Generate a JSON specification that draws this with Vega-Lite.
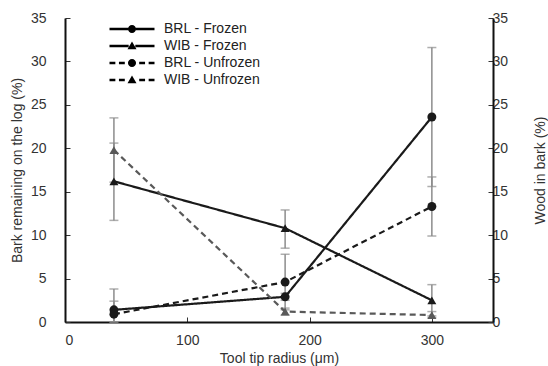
{
  "$schema": "https://vega.github.io/schema/vega-lite/v6.json",
  "autosize": {"type": "none"},
  "width": 428,
  "height": 304,
  "padding": {"left": 65, "top": 18, "right": 55, "bottom": 44},
  "background": "white",
  "config": {
    "view": {"stroke": null},
    "font": "Liberation Sans",
    "axis": {
      "labelFont": "Liberation Sans",
      "labelFontSize": 14,
      "labelColor": "#333333",
      "titleFont": "Liberation Sans",
      "titleFontSize": 14,
      "titleFontWeight": "normal",
      "titleColor": "#333333",
      "domainColor": "#111111",
      "domainWidth": 2,
      "tickColor": "#333333",
      "tickWidth": 1,
      "grid": false
    },
    "legend": {
      "labelFont": "Liberation Sans",
      "labelFontSize": 14,
      "labelColor": "#222222"
    }
  },
  "data": {
    "values": [
      {"series": "BRL - Frozen", "radius": 40, "value": 1.4, "lo": 0, "hi": 3.8},
      {"series": "BRL - Frozen", "radius": 180, "value": 2.9, "lo": 2.5, "hi": 3.3},
      {"series": "BRL - Frozen", "radius": 300, "value": 23.6, "lo": 15.6, "hi": 31.6},
      {"series": "WIB - Frozen", "radius": 40, "value": 16.2, "lo": 11.7, "hi": 20.6},
      {"series": "WIB - Frozen", "radius": 180, "value": 10.8, "lo": 8.5, "hi": 12.9},
      {"series": "WIB - Frozen", "radius": 300, "value": 2.5, "lo": 0.7, "hi": 4.3},
      {"series": "BRL - Unfrozen", "radius": 40, "value": 0.9, "lo": 0, "hi": 2.4},
      {"series": "BRL - Unfrozen", "radius": 180, "value": 4.6, "lo": 1.4, "hi": 7.8},
      {"series": "BRL - Unfrozen", "radius": 300, "value": 13.3, "lo": 9.9, "hi": 16.7},
      {"series": "WIB - Unfrozen", "radius": 40, "value": 19.8, "lo": 16.1, "hi": 23.5},
      {"series": "WIB - Unfrozen", "radius": 180, "value": 1.2, "lo": 0.8, "hi": 1.6},
      {"series": "WIB - Unfrozen", "radius": 300, "value": 0.8, "lo": 0.5, "hi": 1.2}
    ]
  },
  "encoding": {
    "x": {
      "field": "radius",
      "type": "quantitative",
      "scale": {"domain": [0, 350], "nice": false},
      "axis": {
        "title": "Tool tip radius (μm)",
        "values": [0, 100, 200, 300],
        "tickSize": -5,
        "labelPadding": 16,
        "titlePadding": 4
      }
    }
  },
  "layer": [
    {
      "layer": [
        {
          "mark": {
            "type": "errorbar",
            "ticks": {"size": 9, "thickness": 1.5, "color": "#8c8c8c"},
            "rule": {"color": "#8c8c8c", "strokeWidth": 1.5}
          },
          "encoding": {
            "y": {
              "field": "lo", "type": "quantitative",
              "scale": {"domain": [0, 35], "nice": false},
              "axis": {"title": "Bark remaining on the log (%)", "tickSize": -5, "labelPadding": 24, "titlePadding": 6, "values": [0, 5, 10, 15, 20, 25, 30, 35]}
            },
            "y2": {"field": "hi"},
            "detail": {"field": "series"}
          }
        },
        {
          "mark": {"type": "line", "strokeWidth": 2.2},
          "encoding": {
            "y": {"field": "value", "type": "quantitative"},
            "color": {
              "field": "series",
              "scale": {"domain": ["BRL - Frozen", "WIB - Frozen", "BRL - Unfrozen", "WIB - Unfrozen"], "range": ["#1a1a1a", "#1a1a1a", "#1a1a1a", "#595959"]},
              "legend": null
            },
            "strokeDash": {
              "field": "series",
              "scale": {"domain": ["BRL - Frozen", "WIB - Frozen", "BRL - Unfrozen", "WIB - Unfrozen"], "range": [[1, 0], [1, 0], [6, 4], [6, 4]]},
              "legend": null
            }
          }
        },
        {
          "mark": {"type": "point", "filled": true, "opacity": 1, "size": 80},
          "encoding": {
            "y": {"field": "value", "type": "quantitative"},
            "color": {
              "field": "series",
              "scale": {"domain": ["BRL - Frozen", "WIB - Frozen", "BRL - Unfrozen", "WIB - Unfrozen"], "range": ["#1a1a1a", "#1a1a1a", "#1a1a1a", "#595959"]},
              "legend": null
            },
            "shape": {
              "field": "series",
              "scale": {"domain": ["BRL - Frozen", "WIB - Frozen", "BRL - Unfrozen", "WIB - Unfrozen"], "range": ["circle", "triangle-up", "circle", "triangle-up"]},
              "legend": null
            }
          }
        },
        {
          "mark": {"type": "point", "size": 0, "strokeWidth": 0},
          "encoding": {
            "y": {"field": "value", "type": "quantitative"},
            "fill": {
              "field": "series",
              "scale": {"domain": ["BRL - Frozen", "WIB - Frozen", "BRL - Unfrozen", "WIB - Unfrozen"], "range": ["#1a1a1a", "#1a1a1a", "#1a1a1a", "#595959"]},
              "legend": {"title": null, "orient": "none", "legendX": 58, "legendY": 2, "symbolSize": 324, "labelOffset": 23, "rowPadding": 1, "padding": 0, "symbolStrokeWidth": 0, "symbolOpacity": 1,
                "encode": {"symbols": {
                  "fill": {"value": {"expr": "datum.value === 'WIB - Unfrozen' ? '#595959' : '#1a1a1a'"}},
                  "strokeWidth": {"value": 0},
                  "size": {"value": 324}
                }}}
            },
            "stroke": {
              "field": "series",
              "scale": {"domain": ["BRL - Frozen", "WIB - Frozen", "BRL - Unfrozen", "WIB - Unfrozen"], "range": ["#1a1a1a", "#1a1a1a", "#1a1a1a", "#595959"]},
              "legend": {"title": null, "orient": "none", "legendX": 58, "legendY": 2, "symbolSize": 324, "labelOffset": 23, "rowPadding": 1, "padding": 0, "symbolStrokeWidth": 0, "symbolOpacity": 1,
                "encode": {"symbols": {
                  "fill": {"value": {"expr": "datum.value === 'WIB - Unfrozen' ? '#595959' : '#1a1a1a'"}},
                  "strokeWidth": {"value": 0},
                  "size": {"value": 324}
                }}}
            },
            "shape": {
              "field": "series",
              "scale": {"domain": ["BRL - Frozen", "WIB - Frozen", "BRL - Unfrozen", "WIB - Unfrozen"], "range": [
                "M-2.5,-0.13H-0.44V0.13H-2.5ZM0.44,-0.13H2.5V0.13H0.44ZM0.45,0A0.45,0.45,0,1,1,-0.45,0A0.45,0.45,0,1,1,0.45,0Z",
                "M-2.5,-0.13H-0.37V0.13H-2.5ZM0.37,-0.13H2.5V0.13H0.37ZM0,-0.5L0.5,0.35L-0.5,0.35Z",
                "M-2.5,-0.13H-1.85V0.13H-2.5ZM-1.45,-0.13H-0.8V0.13H-1.45ZM0.8,-0.13H1.45V0.13H0.8ZM1.85,-0.13H2.5V0.13H1.85ZM0.45,0A0.45,0.45,0,1,1,-0.45,0A0.45,0.45,0,1,1,0.45,0Z",
                "M-2.5,-0.13H-1.85V0.13H-2.5ZM-1.45,-0.13H-0.8V0.13H-1.45ZM0.8,-0.13H1.45V0.13H0.8ZM1.85,-0.13H2.5V0.13H1.85ZM0,-0.5L0.5,0.35L-0.5,0.35Z"
              ]},
              "legend": {"title": null, "orient": "none", "legendX": 58, "legendY": 2, "symbolSize": 324, "labelOffset": 23, "rowPadding": 1, "padding": 0, "symbolStrokeWidth": 0, "symbolOpacity": 1,
                "encode": {"symbols": {
                  "fill": {"value": {"expr": "datum.value === 'WIB - Unfrozen' ? '#595959' : '#1a1a1a'"}},
                  "strokeWidth": {"value": 0},
                  "size": {"value": 324}
                }}}
            },
            "strokeDash": {
              "field": "series",
              "scale": {"domain": ["BRL - Frozen", "WIB - Frozen", "BRL - Unfrozen", "WIB - Unfrozen"], "range": [[1, 0], [1, 0], [4, 3], [4, 3]]},
              "legend": {"title": null, "orient": "none", "legendX": 58, "legendY": 2, "symbolSize": 324, "labelOffset": 23, "rowPadding": 1, "padding": 0, "symbolStrokeWidth": 0, "symbolOpacity": 1,
                "encode": {"symbols": {
                  "fill": {"value": {"expr": "datum.value === 'WIB - Unfrozen' ? '#595959' : '#1a1a1a'"}},
                  "strokeWidth": {"value": 0},
                  "size": {"value": 324}
                }}}
            }
          }
        }
      ],
      "resolve": {
        "scale": {"shape": "independent", "strokeDash": "independent"},
        "legend": {"shape": "independent", "strokeDash": "independent"}
      }
    },
    {
      "mark": {"type": "point", "opacity": 0},
      "encoding": {
        "y": {
          "field": "value",
          "type": "quantitative",
          "scale": {"domain": [0, 35], "nice": false},
          "axis": {"orient": "right", "title": "Wood in bark (%)", "titleAngle": 270, "tickSize": -5, "labelPadding": 4, "titlePadding": 40, "values": [0, 5, 10, 15, 20, 25, 30, 35]}
        }
      }
    }
  ],
  "resolve": {"scale": {"y": "independent"}}
}
